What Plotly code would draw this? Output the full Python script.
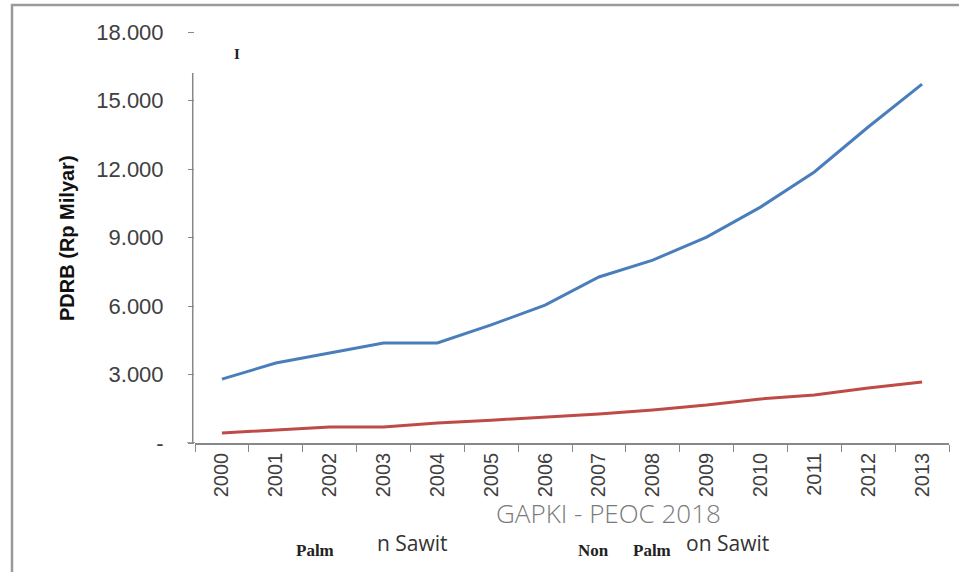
import plotly.graph_objects as go

years = ["2000", "2001", "2002", "2003", "2004", "2005", "2006", "2007",
         "2008", "2009", "2010", "2011", "2012", "2013"]
palm = [2800, 3500, 3940, 4380, 4380, 5170, 6040, 7270, 8010, 9020,
        10330, 11870, 13840, 15720]
non_palm = [440, 570, 700, 700, 875, 1000, 1140, 1270, 1450, 1660,
            1930, 2100, 2410, 2670]
y_tickvals = [0, 3000, 6000, 9000, 12000, 15000, 18000]
y_ticktext = ["-", "3.000", "6.000", "9.000", "12.000", "15.000", "18.000"]

W, H = 959, 572
L, R, T, B = 195, 10, 32, 129
PW, PH = W - L - R, H - T - B


def px(x, y):
    return (x - L) / PW, (H - B - y) / PH


fig = go.Figure()
fig.add_trace(go.Scatter(x=years, y=palm, mode="lines",
                         line=dict(color="#4a7ebb", width=3), name="Palm"))
fig.add_trace(go.Scatter(x=years, y=non_palm, mode="lines",
                         line=dict(color="#be4b48", width=3), name="Non Palm"))

fig.update_layout(
    width=W, height=H,
    margin=dict(l=L, r=R, t=T, b=B),
    paper_bgcolor="white", plot_bgcolor="white",
    showlegend=False,
    font=dict(family="Liberation Sans, Arial", color="#404040"),
)
fig.update_xaxes(
    type="category", range=[-0.5, 13.5],
    tickson="boundaries", ticks="outside", ticklen=7, tickcolor="#888888",
    showline=True, linecolor="#888888", linewidth=1.5,
    tickangle=-90, tickfont=dict(size=20, color="#404040"),
    showgrid=False, zeroline=False,
)
fig.update_yaxes(
    range=[0, 18000], tickvals=y_tickvals, ticktext=y_ticktext,
    ticks="outside", ticklen=6, tickcolor="#888888",
    showline=False, showgrid=False, zeroline=False,
    tickfont=dict(size=22, color="#404040"), ticklabelstandoff=20,
)

shapes = []
# partial y axis line
shapes.append(dict(type="line", xref="paper", yref="y", x0=-0.003, x1=-0.003,
                   y0=0, y1=16200, line=dict(color="#888888", width=1.5)))
# x axis line extension to the left
ex0, _ = px(187, 0)
shapes.append(dict(type="line", xref="paper", yref="y", x0=ex0, x1=0,
                   y0=0, y1=0, line=dict(color="#888888", width=1.5)))
# scan frame
x0, y0 = px(12, 5)
x1, y1 = px(975, 590)
shapes.append(dict(type="rect", xref="paper", yref="paper", x0=x0, y0=y1,
                   x1=x1, y1=y0, line=dict(color="#9a9a9a", width=2.5),
                   fillcolor="rgba(0,0,0,0)", layer="below"))
fig.update_layout(shapes=shapes)

ann = []


def add_text(text, x, y, size, family, color="#222222", bold=False, angle=0, weight=None):
    ax, ay = px(x, y)
    f = dict(size=size, family=family, color=color)
    if weight is not None:
        f["weight"] = weight
    ann.append(dict(text=("<b>%s</b>" % text) if bold else text, x=ax, y=ay,
                    xref="paper", yref="paper", showarrow=False,
                    xanchor="center", yanchor="middle", textangle=angle, font=f))


add_text("PDRB (Rp Milyar)", 67, 238, 20, "Liberation Sans, Arial", "#111111", bold=True, angle=-90)
add_text("I", 237, 54, 15, "Liberation Serif, serif", "#222222", bold=True)
add_text("GAPKI - PEOC 2018", 608, 513, 26, "Open Sans, sans-serif", "#7a7a7a", weight=300)
add_text("Palm", 315, 550, 17, "Liberation Serif, serif", "#222222", bold=True)
add_text("n Sawit", 412, 543, 21, "Open Sans, sans-serif", "#333333")
add_text("Non", 593, 550, 17, "Liberation Serif, serif", "#222222", bold=True)
add_text("Palm", 652, 550, 17, "Liberation Serif, serif", "#222222", bold=True)
add_text("on Sawit", 727, 543, 21, "Open Sans, sans-serif", "#333333")
fig.update_layout(annotations=ann)

fig.write_html("out.html", config={"displayModeBar": False},
               post_script="document.body.style.margin='0px';")
